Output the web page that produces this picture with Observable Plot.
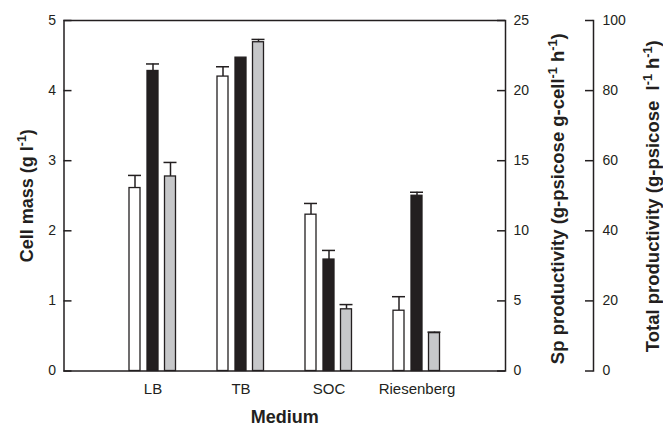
<!DOCTYPE html>
<html>
<head>
<meta charset="utf-8">
<script src="https://cdn.jsdelivr.net/npm/d3@7"></script>
<script src="https://cdn.jsdelivr.net/npm/@observablehq/plot@0.6"></script>
<style>
  html, body { margin: 0; padding: 0; background: #fff; }
  #chart { width: 663px; height: 429px; }
</style>
</head>
<body>
<div id="chart"></div>
<script>
// ---- data ----
const media = ["LB", "TB", "SOC", "Riesenberg"];
const cellMass = [2.61, 4.2, 2.23, 0.86];          // g/l
const cellMassErr = [0.18, 0.14, 0.16, 0.2];
const spProd = [21.4, 22.35, 7.95, 12.5];          // g-psicose g-cell^-1 h^-1
const spProdErr = [0.5, 0.0, 0.65, 0.25];
const totalProd = [55.5, 93.8, 17.6, 10.8];        // g-psicose l^-1 h^-1
const totalProdErr = [4.0, 0.8, 1.35, 0.3];
const leftTicks = [0, 1, 2, 3, 4, 5];

// the three axes are proportional: cell mass 0-5, Sp 0-25, total 0-100
const spFactor = 5, totalFactor = 20;

const rows = media.map((m, i) => ({
  medium: m,
  cell: cellMass[i], cellErr: cellMassErr[i],
  sp: spProd[i] / spFactor, spErr: spProdErr[i] / spFactor,
  tot: totalProd[i] / totalFactor, totErr: totalProdErr[i] / totalFactor
}));

const ink = "#231f20";
const W = 663, H = 429, ML = 63.5, MR = 158, MT = 20, MB = 58.5;
const frameW = W - ML - MR;
const tickLen = 8;

const series = [
  {v: "cell", e: "cellErr", fill: "#ffffff", dx: -18},
  {v: "sp", e: "spErr", fill: "#231f20", dx: 0},
  {v: "tot", e: "totErr", fill: "#c6c7c9", dx: 17.5}
];

const marks = [];
for (const s of series) {
  const withErr = rows.filter(d => d[s.e] > 0);
  marks.push(Plot.ruleX(withErr, {x: "medium", y1: d => d[s.v], y2: d => d[s.v] + d[s.e], dx: s.dx, stroke: ink, strokeWidth: 1.5}));
  marks.push(Plot.tickY(withErr, {x: "medium", y: d => d[s.v] + d[s.e], dx: s.dx, stroke: ink, strokeWidth: 1.5, insetLeft: -1, insetRight: -1}));
  marks.push(Plot.barY(rows, {x: "medium", y: d => d[s.v], fill: s.fill, stroke: ink, strokeWidth: 1.3, dx: s.dx}));
}

const chart = Plot.plot({
  width: W,
  height: H,
  marginTop: MT,
  marginBottom: MB,
  marginLeft: ML,
  marginRight: MR,
  style: {fontFamily: "'Liberation Sans', Arial, sans-serif", color: ink, background: "#fff"},
  x: {domain: media, paddingInner: 0.875, paddingOuter: 0.9375},
  y: {domain: [0, 5]},
  marks: [
    ...marks,
    Plot.frame({stroke: ink, strokeWidth: 1.5}),
    Plot.frame({anchor: "right", dx: 88, stroke: ink, strokeWidth: 1.5}),
    // tick marks: left axis inward, Sp axis inward, total axis pointing left
    Plot.tickY(leftTicks, {y: d => d, insetRight: frameW - tickLen, stroke: ink, strokeWidth: 1.5}),
    Plot.tickY(leftTicks, {y: d => d, insetLeft: frameW - tickLen, stroke: ink, strokeWidth: 1.5}),
    Plot.tickY(leftTicks, {y: d => d, insetLeft: frameW - tickLen, dx: 88, stroke: ink, strokeWidth: 1.5}),
    Plot.axisX({tickSize: 0, tickPadding: 12, fontSize: 15, label: null}),
    Plot.axisY({anchor: "left", ticks: leftTicks, tickFormat: d => String(d), tickSize: 0, tickPadding: 8, fontSize: 14, label: null}),
    Plot.axisY({anchor: "right", ticks: leftTicks, tickFormat: d => String(d * spFactor), tickSize: 0, tickPadding: 8, fontSize: 14, label: null}),
    Plot.axisY({anchor: "right", ticks: leftTicks, tickFormat: d => String(d * totalFactor), tickSize: 0, tickPadding: 9, dx: 88, fontSize: 14, label: null}),
    Plot.text(["Cell mass (g l⁻¹)"], {frameAnchor: "left", dx: -37, dy: 0, rotate: -90, textAnchor: "middle", fontSize: 18, fontWeight: "bold", fill: ink}),
    Plot.text(["Sp productivity (g-psicose g-cell⁻¹ h⁻¹)"], {frameAnchor: "right", dx: 53, dy: 3, rotate: -90, textAnchor: "middle", fontSize: 18.5, fontWeight: "bold", fill: ink}),
    Plot.text(["Total productivity (g-psicose  l⁻¹ h⁻¹)"], {frameAnchor: "right", dx: 148, dy: 0.5, rotate: -90, textAnchor: "middle", fontSize: 18.5, fontWeight: "bold", fill: ink}),
    Plot.text(["Medium"], {frameAnchor: "bottom", dy: 52, textAnchor: "middle", fontSize: 18, fontWeight: "bold", fill: ink})
  ]
});

// render "⁻¹" as a real superscript tspan
chart.querySelectorAll("text").forEach(t => {
  if (t.children.length === 0 && t.textContent.includes("⁻¹")) {
    const parts = t.textContent.split("⁻¹");
    t.textContent = "";
    parts.forEach((p, i) => {
      if (p) t.appendChild(document.createTextNode(p));
      if (i < parts.length - 1) {
        const sup = document.createElementNS("http://www.w3.org/2000/svg", "tspan");
        sup.setAttribute("baseline-shift", "super");
        sup.setAttribute("font-size", "0.68em");
        sup.textContent = "-1";
        t.appendChild(sup);
      }
    });
    t.setAttribute("xml:space", "preserve");
    t.style.whiteSpace = "pre";
  }
});

document.getElementById("chart").appendChild(chart);
</script>
</body>
</html>
